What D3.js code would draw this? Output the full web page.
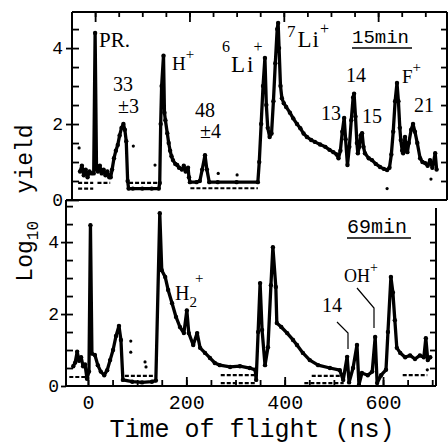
<!DOCTYPE html>
<html>
<head>
<meta charset="utf-8">
<script src="https://cdn.jsdelivr.net/npm/d3@7"></script>
<style>
body { margin:0; background:#fff; }
.lbl { font-family:"Liberation Serif", serif; fill:#000; }
.mono { font-family:"Liberation Mono", monospace; fill:#000; }
</style>
</head>
<body>
<div id="chart"></div>
<script>
// ---- data ----
// upper panel, 15 min
var topT = [-32,-28,-24,-20,-16,-12,-8,-3,0,3,6,10,14,18,22,26,30,33,36,40,44,48,52,56,60,63,66,69,71,
            80,100,120,135,137,139,141,145,147,149,153,156,159,162,165,170,174,178,184,188,192,197,199,201,
            215,222,227,233,237,242,260,300,345,
            348,352,356,360,363,366,370,374,378,382,386,388,390,393,396,400,405,413,420,428,435,442,449,458,466,477,488,497,505,512,516,
            520,524,528,531,535,539,543,547,549,552,555,557,560,563,566,569,572,580,587,595,604,612,619,624,
            628,632,636,640,643,646,648,651,653,655,657,660,662,665,670,674,678,683,689,694,700,705,710,715,721,724];
var topV = [0.75,0.9,0.65,0.8,0.6,0.75,0.7,0.7,4.4,0.8,0.75,0.9,0.7,0.8,0.65,0.75,0.6,0.6,0.8,1.1,1.3,1.45,1.7,1.9,2.0,1.85,1.55,0.5,0.3,
            0.3,0.3,0.3,0.3,0.45,2.0,3.0,3.8,2.3,2.1,1.76,1.5,1.3,1.15,1.05,0.95,0.92,0.85,0.8,0.9,0.75,0.85,0.6,0.47,
            0.47,0.5,0.8,1.18,0.8,0.47,0.47,0.47,0.47,
            1.0,2.0,3.0,3.74,2.5,1.9,1.66,1.75,2.6,3.6,4.5,4.66,4.0,3.0,2.68,2.55,2.45,2.3,2.15,2.0,1.89,1.75,1.66,1.58,1.53,1.46,1.4,1.32,1.26,1.2,1.1,
            1.3,1.8,2.16,1.6,0.92,1.4,2.1,2.7,2.8,2.2,1.5,1.23,1.4,1.7,1.76,1.4,1.23,1.1,1.05,0.95,0.87,0.82,0.79,0.85,
            1.2,1.8,2.6,3.08,2.6,1.9,1.58,1.3,1.23,1.45,1.66,1.3,1.26,1.5,1.85,2.0,1.8,1.5,1.1,1.0,0.97,0.9,1.05,0.85,1.23,0.8];
// lower panel, 69 min
var botT = [-30,-26,-22,-18,-14,-10,-6,-2,2,5,8,14,20,26,33,39,45,51,57,63,67,71,
            90,110,130,138,146,150,157,163,171,179,187,195,201,205,214,222,228,238,248,258,268,289,309,329,340,
            342,346,350,354,360,366,372,376,382,384,393,405,417,425,437,451,468,492,512,519,527,531,539,547,551,557,569,578,584,588,596,
            606,610,616,620,624,628,635,645,655,665,675,683,687,691,696];
var botV = [0.55,0.65,0.95,0.7,0.8,0.55,0.6,0.2,0.4,4.47,0.9,0.86,0.58,0.4,0.3,0.44,0.72,1.0,1.39,1.67,1.28,0.17,
            0.12,0.1,0.12,0.15,4.8,3.22,3.03,2.67,2.3,1.92,1.64,1.47,2.1,1.47,1.14,1.47,1.06,0.92,0.78,0.64,0.58,0.53,0.55,0.5,0.45,
            0.17,1.5,2.86,1.56,0.58,1.08,2.8,3.86,2.75,1.75,1.64,1.47,1.28,1.14,0.92,0.72,0.58,0.5,0.44,0.17,0.81,0.1,0.5,1.14,0.03,0.36,0.3,0.4,1.36,0.08,0.3,
            0.45,1.5,3.03,2.6,1.83,1.06,0.92,0.8,0.85,0.75,0.85,0.8,1.33,0.72,0.8];
// dashed floor levels [from, to, value]
var topFloors = [[-36,-4,0.45],[-36,-4,0.3],[5,32,0.45],[72,138,0.45],[202,345,0.31]];
var botFloors = [[-38,-4,0.25],[75,138,0.28],[270,340,0.3],[270,340,0.08],[455,520,0.28],[440,520,0.08],[640,690,0.3]];
// stray points
var topDotT = [-34,81,127,261,301,619,712];
var topDotV = [1.37,1.42,0.92,0.7,0.66,0.3,0.55];
var botDotT = [87,87,116,118,690];
var botDotV = [1.25,0.94,0.67,0.53,0.45];
var yTicks = [0,2,4];
var xTickLabels = [0,200,400,600];

var width = 448, height = 446;

var svg = d3.select("#chart").append("svg")
    .attr("width", width).attr("height", height);

// scales for the two stacked panels (upper one is mounted slightly shifted)
var xTop = d3.scaleLinear().domain([-49, 746]).range([72, 447]);
var yTop = d3.scaleLinear().domain([0, 4.95]).range([200, 12]);
var xBot = d3.scaleLinear().domain([-44.7, 707.7]).range([66, 436]);
var yBot = d3.scaleLinear().domain([0, 5.17]).range([386, 200]);

var halfSteps = d3.range(0, 5.01, 0.5);
var fiftyNs = d3.range(-50, 751, 50);

function drawPanel(g, x, y, T, V, floors, dT, dV){
    var pts = T.map(function(t, i){ return [t, V[i]]; });
    floors.forEach(function(f){
        g.append("line")
            .attr("x1", x(f[0])).attr("x2", x(f[1]))
            .attr("y1", y(f[2])).attr("y2", y(f[2]))
            .attr("stroke", "#000").attr("stroke-width", 2.2)
            .attr("stroke-dasharray", "4,2");
    });
    g.append("path")
        .datum(pts)
        .attr("fill", "none")
        .attr("stroke", "#000")
        .attr("stroke-width", 3.3)
        .attr("stroke-linejoin", "round")
        .attr("d", d3.line().x(function(d){ return x(d[0]); }).y(function(d){ return y(d[1]); }));
    g.selectAll(".pt")
        .data(pts).enter().append("circle")
        .attr("cx", function(d){ return x(d[0]); })
        .attr("cy", function(d){ return y(d[1]); })
        .attr("r", 2.2).attr("fill", "#000");
    g.selectAll(".dot")
        .data(dT).enter().append("circle")
        .attr("cx", function(d){ return x(d); })
        .attr("cy", function(d, i){ return y(dV[i]); })
        .attr("r", 1.6).attr("fill", "#000");
}

var gTop = svg.append("g");
var gBot = svg.append("g");
drawPanel(gTop, xTop, yTop, topT, topV, topFloors, topDotT, topDotV);
drawPanel(gBot, xBot, yBot, botT, botV, botFloors, botDotT, botDotV);

// ---- axes ----
function styleAxis(sel){
    sel.select(".domain").remove();
    sel.selectAll("line").attr("stroke", "#000").attr("stroke-width", 1.8);
    sel.selectAll("text").attr("class", "mono").style("font-size", "18px").attr("fill", "#000");
}
var fmt = d3.format("d");

// upper panel: ticks along the top edge
svg.append("g").attr("transform", "translate(0,12)")
    .call(d3.axisTop(xTop).tickValues(fiftyNs.filter(function(v){ return v > -49; })).tickSize(-5).tickFormat(""))
    .call(styleAxis);
svg.append("g").attr("transform", "translate(0,12)")
    .call(d3.axisTop(xTop).tickValues([0,200,400,600]).tickSize(-10).tickFormat(""))
    .call(styleAxis);
// upper panel left / right
svg.append("g").attr("transform", "translate(72,0)")
    .call(d3.axisLeft(yTop).tickValues(halfSteps.filter(function(v){ return v < 4.95; })).tickSize(-7).tickFormat(""))
    .call(styleAxis);
svg.append("g").attr("transform", "translate(72,0)")
    .call(d3.axisLeft(yTop).tickValues(yTicks).tickSize(6).tickPadding(3).tickFormat(fmt))
    .call(styleAxis);
svg.append("g").attr("transform", "translate(447,0)")
    .call(d3.axisRight(yTop).tickValues(halfSteps.filter(function(v){ return v > 0 && v < 4.95; })).tickSize(-6).tickFormat(""))
    .call(styleAxis);

// lower panel
svg.append("g").attr("transform", "translate(0,386)")
    .call(d3.axisBottom(xBot).tickValues(fiftyNs.filter(function(v){ return v > -44 && v < 707; })).tickSize(-6).tickFormat(""))
    .call(styleAxis);
svg.append("g").attr("transform", "translate(0,386)")
    .call(d3.axisBottom(xBot).tickValues(xTickLabels).tickSize(-9).tickPadding(9).tickFormat(fmt))
    .call(styleAxis)
    .selectAll("text").style("font-size", "20px");
svg.append("g").attr("transform", "translate(66,0)")
    .call(d3.axisLeft(yBot).tickValues(halfSteps.filter(function(v){ return v > 0 && v < 5.1; })).tickSize(-7).tickFormat(""))
    .call(styleAxis);
svg.append("g").attr("transform", "translate(66,0)")
    .call(d3.axisLeft(yBot).tickValues(yTicks).tickSize(5).tickPadding(2).tickFormat(fmt))
    .call(styleAxis);
svg.append("g").attr("transform", "translate(436,0)")
    .call(d3.axisRight(yBot).tickValues(halfSteps.filter(function(v){ return v > 0 && v < 4.9; })).tickSize(-6).tickFormat(""))
    .call(styleAxis);

// frames
var frame = [
    [xTop.range()[0], yTop.range()[1], xTop.range()[1], yTop.range()[1]],
    [xTop.range()[0], yTop.range()[1], xTop.range()[0], yTop.range()[0]],
    [xTop.range()[1], yTop.range()[1], xTop.range()[1], yTop.range()[0]],
    [xBot.range()[0], yTop.range()[0], xTop.range()[1], yTop.range()[0]],
    [xBot.range()[0], yBot.range()[1], xBot.range()[0], yBot.range()[0]],
    [xBot.range()[0], yBot.range()[0], xBot.range()[1], yBot.range()[0]],
    [xBot.range()[1], yBot.range()[1] + 8, xBot.range()[1], yBot.range()[0]]
];
svg.selectAll(".frame").data(frame).enter().append("line")
    .attr("x1", function(d){ return d[0]; }).attr("y1", function(d){ return d[1]; })
    .attr("x2", function(d){ return d[2]; }).attr("y2", function(d){ return d[3]; })
    .attr("stroke", "#000").attr("stroke-width", 2);

// ---- labels ----
function label(x, y, parts, cls){
    var t = svg.append("text").attr("class", cls || "lbl").attr("x", x).attr("y", y);
    parts.forEach(function(p){
        var s = t.append("tspan").text(p.t).style("font-size", p.s + "px");
        if(p.dx != null) s.attr("dx", p.dx);
        if(p.dy != null) s.attr("dy", p.dy);
        if(p.ls != null) s.style("letter-spacing", p.ls + "px");
    });
    return t;
}

label(99, 47, [{t:"PR.", s:21}]);
label(113, 91, [{t:"33", s:20}]);
label(118, 113, [{t:"±3", s:20}]);
label(172, 70, [{t:"H", s:19}, {t:"+", s:15, dy:-11}]);
label(195, 117, [{t:"48", s:20}]);
label(200, 138, [{t:"±4", s:20}]);
label(222, 52, [{t:"6", s:16}, {t:"Li", s:23, dy:20, dx:1, ls:2}, {t:"+", s:16, dy:-20, dx:-2}]);
label(287, 37, [{t:"7", s:17}, {t:"Li", s:23, dy:10, dx:2, ls:1}, {t:"+", s:16, dy:-13}]);
label(352, 43, [{t:"15min", s:19}], "mono");
svg.append("line").attr("x1", 352).attr("x2", 412).attr("y1", 48).attr("y2", 48)
    .attr("stroke", "#000").attr("stroke-width", 1.5);
label(346, 82, [{t:"14", s:20}]);
label(321, 120, [{t:"13", s:20}]);
label(362, 123, [{t:"15", s:20}]);
label(402, 83, [{t:"F", s:19}, {t:"+", s:15, dy:-11}]);
label(414, 112, [{t:"21", s:20}]);

label(347, 233, [{t:"69min", s:20}], "mono");
svg.append("line").attr("x1", 347).attr("x2", 411).attr("y1", 238).attr("y2", 238)
    .attr("stroke", "#000").attr("stroke-width", 1.5);
label(175, 300, [{t:"H", s:20}, {t:"2", s:15, dy:7}, {t:"+", s:15, dx:-2, dy:-24}]);
label(344, 282, [{t:"OH", s:18}, {t:"+", s:14, dy:-10}]);
label(322, 312, [{t:"14", s:20}]);
// leader lines
var leaders = [[[357,288],[374,308],[374,328]], [[337,322],[348,333],[348,349]]];
leaders.forEach(function(l){
    svg.append("path").attr("d", d3.line()(l))
        .attr("fill", "none").attr("stroke", "#000").attr("stroke-width", 1.2);
});

// axis titles
svg.append("text").attr("class", "mono")
    .attr("x", 252).attr("y", 437).attr("text-anchor", "middle")
    .style("font-size", "25px")
    .text("Time of flight (ns)");
var yt = svg.append("text").attr("class", "mono")
    .attr("transform", "translate(32,203) rotate(-90)")
    .attr("text-anchor", "middle")
    .style("font-size", "23px");
yt.append("tspan").text("Log");
yt.append("tspan").text("10").style("font-size", "16px").attr("dy", 6);
yt.append("tspan").text("\u00a0\u00a0yield").attr("dy", -6);
</script>
</body>
</html>
